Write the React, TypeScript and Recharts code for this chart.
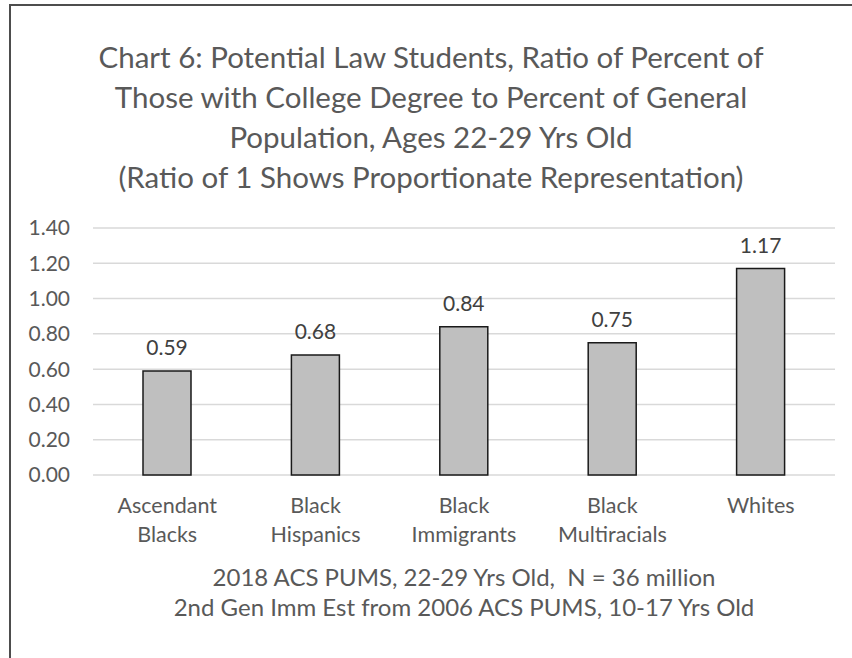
import { BarChart, Bar, XAxis, YAxis, CartesianGrid, LabelList } from "recharts";

const groups = [
  "Ascendant Blacks",
  "Black Hispanics",
  "Black Immigrants",
  "Black Multiracials",
  "Whites",
];
const ratios = [0.59, 0.68, 0.84, 0.75, 1.17];
const yTicks = [0, 0.2, 0.4, 0.6, 0.8, 1.0, 1.2, 1.4];

const titleLines = [
  "Chart 6: Potential Law Students, Ratio of Percent of",
  "Those with College Degree to Percent of General",
  "Population, Ages 22-29 Yrs Old",
  "(Ratio of 1 Shows Proportionate Representation)",
];
const footerLines = [
  "2018 ACS PUMS, 22-29 Yrs Old,  N = 36 million",
  "2nd Gen Imm Est from 2006 ACS PUMS, 10-17 Yrs Old",
];

const data = groups.map((g, i) => ({ group: g, ratio: ratios[i] }));

const FONT = "Lato, 'Open Sans', sans-serif";
const TEXT = "#595959";

function CategoryTick(props: any) {
  const { x, y, payload } = props;
  const words = String(payload.value).split(" ");
  return (
    <text x={x} y={y} textAnchor="middle" fill={TEXT} fontSize={21.5} fontFamily={FONT}>
      {words.map((w, i) => (
        <tspan key={i} x={x} dy={i === 0 ? 38 : 29}>
          {w}
        </tspan>
      ))}
    </text>
  );
}

export default function App() {
  return (
    <div
      style={{
        position: "absolute",
        left: 0,
        top: 0,
        width: 852,
        height: 658,
        background: "#fff",
        overflow: "hidden",
        fontFamily: FONT,
      }}
    >
      {/* frame */}
      <div
        style={{
          position: "absolute",
          left: 9,
          top: 4,
          width: 900,
          height: 700,
          border: "2px solid #4d4d4d",
          boxSizing: "border-box",
        }}
      />
      <div
        style={{
          position: "absolute",
          left: 10,
          top: 37,
          width: 842,
          textAlign: "center",
          color: TEXT,
          fontSize: 29.5,
          lineHeight: "40px",
        }}
      >
        {titleLines.map((t, i) => (
          <div key={i}>{t}</div>
        ))}
      </div>
      <BarChart
        width={852}
        height={658}
        data={data}
        margin={{ top: 228, right: 17, bottom: 103, left: 0 }}
        style={{ position: "absolute", left: 0, top: 0 }}
      >
        <CartesianGrid vertical={false} stroke="#d9d9d9" strokeWidth={1.5} />
        <XAxis
          dataKey="group"
          axisLine={false}
          tickLine={false}
          tickSize={0}
          tickMargin={0}
          height={80}
          interval={0}
          tick={<CategoryTick />}
        />
        <YAxis
          width={93}
          domain={[0, 1.4]}
          ticks={yTicks}
          axisLine={false}
          tickLine={false}
          tickSize={0}
          tickMargin={23}
          tickFormatter={(v: number) => v.toFixed(2)}
          tick={{ fill: TEXT, fontSize: 21, fontFamily: FONT }}
        />
        <Bar
          dataKey="ratio"
          barSize={48}
          fill="#bfbfbf"
          stroke="#1a1a1a"
          strokeWidth={1.5}
          isAnimationActive={false}
        >
          <LabelList
            dataKey="ratio"
            position="top"
            offset={16}
            fill="#404040"
            fontSize={21}
            fontFamily={FONT}
            formatter={(v: any) => Number(v).toFixed(2)}
          />
        </Bar>
      </BarChart>
      <div
        style={{
          position: "absolute",
          left: 93,
          top: 562,
          width: 742,
          textAlign: "center",
          color: TEXT,
          fontSize: 24,
          lineHeight: "30px",
        }}
      >
        {footerLines.map((t, i) => (
          <div key={i} style={{ whiteSpace: "pre" }}>
            {t}
          </div>
        ))}
      </div>
    </div>
  );
}
